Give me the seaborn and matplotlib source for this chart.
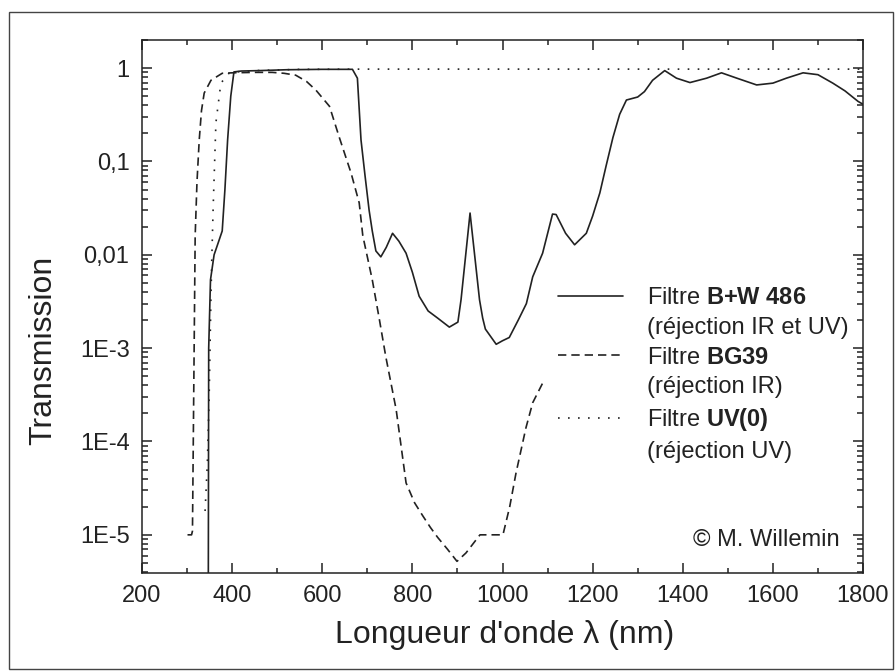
import matplotlib
matplotlib.use("Agg")
import matplotlib.pyplot as plt
import matplotlib.ticker as mticker
from matplotlib.lines import Line2D
from matplotlib.patches import Rectangle
import seaborn as sns
import pandas as pd

# ---- data ----
bw_x = [347, 348, 352, 360, 369, 378, 384, 390, 397, 404, 420, 460, 520, 600, 667, 678, 686, 695,
        704, 711, 719, 730, 742, 756, 770, 786, 800, 815, 835, 856, 882, 901, 908, 928, 949, 956,
        962, 986, 1000, 1015, 1035, 1053, 1067, 1089, 1111, 1119, 1140, 1160, 1186, 1200, 1216,
        1230, 1245, 1260, 1275, 1300, 1315, 1333, 1360, 1386, 1416, 1453, 1486, 1520, 1564, 1600,
        1630, 1667, 1700, 1733, 1760, 1789, 1800]
bw_y = [1e-6, 1e-3, 0.0054, 0.010, 0.0134, 0.018, 0.05, 0.17, 0.5, 0.91, 0.93, 0.94, 0.96, 0.97,
        0.97, 0.78, 0.17, 0.07, 0.03, 0.018, 0.011, 0.0095, 0.012, 0.017, 0.014, 0.0104, 0.0065,
        0.0036, 0.0025, 0.0021, 0.00168, 0.0019, 0.0033, 0.028, 0.0033, 0.0021, 0.0016, 0.0011,
        0.0012, 0.0013, 0.002, 0.003, 0.0058, 0.0104, 0.0273, 0.027, 0.017, 0.0128, 0.017, 0.026,
        0.046, 0.09, 0.18, 0.32, 0.455, 0.49, 0.56, 0.74, 0.94, 0.78, 0.70, 0.78, 0.89, 0.78, 0.66,
        0.69, 0.78, 0.89, 0.85, 0.69, 0.57, 0.44, 0.41]

bg_x = [301, 310, 312, 318, 322, 327, 332, 338, 353, 378, 400, 450, 489, 515, 541, 565, 586, 616,
        638, 664, 682, 690, 711, 727, 741, 764, 786, 805, 823, 840, 856, 878, 899, 919, 950, 1001,
        1016, 1030, 1052, 1067, 1093]
bg_y = [1e-5, 1e-5, 1.1e-5, 0.016, 0.06, 0.17, 0.35, 0.54, 0.74, 0.88, 0.89, 0.9, 0.9, 0.88, 0.84,
        0.72, 0.58, 0.39, 0.18, 0.075, 0.036, 0.016, 0.0054, 0.002, 8.1e-4, 2.2e-4, 3.6e-5, 2.2e-5,
        1.6e-5, 1.2e-5, 9.4e-6, 7e-6, 5.2e-6, 6.4e-6, 1e-5, 1e-5, 2e-5, 4.6e-5, 1.4e-4, 2.6e-4,
        4.6e-4]

uv_x = [340, 345, 349, 353, 355, 358, 364, 375, 393, 408, 450, 550, 700, 1800]
uv_y = [1.8e-5, 5.8e-5, 3e-4, 3.6e-3, 9.5e-3, 0.033, 0.26, 0.69, 0.88, 0.91, 0.94, 0.97, 0.975, 0.975]

xticks = [200, 400, 600, 800, 1000, 1200, 1400, 1600, 1800]
yticks = [1e-5, 1e-4, 1e-3, 1e-2, 1e-1, 1]
ytick_labels = ["1E-5", "1E-4", "1E-3", "0,01", "0,1", "1"]

legend_labels = ["Filtre $\\mathbf{B{+}W\\ 486}$", "(réjection IR et UV)",
                 "Filtre $\\mathbf{BG39}$", "(réjection IR)",
                 "Filtre $\\mathbf{UV(0)}$", "(réjection UV)"]

# ---- style ----
sns.set_theme(style="ticks")
plt.rcParams["font.family"] = ["Liberation Sans", "DejaVu Sans"]
plt.rcParams["mathtext.fontset"] = "custom"
plt.rcParams["mathtext.rm"] = "Liberation Sans"
plt.rcParams["mathtext.bf"] = "Liberation Sans:bold"
plt.rcParams["mathtext.it"] = "Liberation Sans:italic"

ink = "#222222"
fig = plt.figure(figsize=(8.96, 6.72), dpi=100)
ax = fig.add_axes([142 / 896, 1 - 573 / 672, 721 / 896, 533 / 672])

df_bw = pd.DataFrame({"x": bw_x, "y": bw_y})
df_bg = pd.DataFrame({"x": bg_x, "y": bg_y})
df_uv = pd.DataFrame({"x": uv_x, "y": uv_y})

lw = 1.2
sns.lineplot(data=df_bw, x="x", y="y", ax=ax, color=ink, lw=lw, estimator=None, sort=False)
sns.lineplot(data=df_bg, x="x", y="y", ax=ax, color=ink, lw=lw, estimator=None, sort=False,
             linestyle=(0, (5, 3)))
sns.lineplot(data=df_uv, x="x", y="y", ax=ax, color=ink, lw=lw, estimator=None, sort=False,
             linestyle=(0, (1, 5)))

ax.set_yscale("log")
ax.set_xlim(200, 1800)
ax.set_ylim(3.9e-6, 2.0)

ax.set_xticks(xticks)
ax.set_xticklabels([str(t) for t in xticks])
ax.xaxis.set_minor_locator(mticker.MultipleLocator(100))
ax.set_yticks(yticks)
ax.set_yticklabels(ytick_labels)
ax.yaxis.set_minor_locator(mticker.LogLocator(base=10, subs=range(2, 10), numticks=20))
ax.yaxis.set_minor_formatter(mticker.NullFormatter())

ax.tick_params(which="both", direction="in", top=True, right=True, color=ink, width=1.1)
ax.tick_params(which="major", length=7, labelsize=17, pad=9, labelcolor=ink)
ax.tick_params(axis="x", which="minor", length=3.5)
ax.tick_params(axis="y", which="minor", length=4.5)
for s in ax.spines.values():
    s.set_color(ink)
    s.set_linewidth(1.1)

ax.set_xlabel("Longueur d'onde λ (nm)", fontsize=23, color=ink, va="center")
ax.xaxis.set_label_coords(0.503, -0.116)
ax.set_ylabel("Transmission", fontsize=23, color=ink, va="center")
ax.yaxis.set_label_coords(-0.1375, 0.418)

handles = [Line2D([], [], color=ink, lw=lw),
           Line2D([], [], color="none"),
           Line2D([], [], color=ink, lw=lw, linestyle=(0, (5, 3))),
           Line2D([], [], color="none"),
           Line2D([], [], color=ink, lw=lw, linestyle=(0, (1, 5))),
           Line2D([], [], color="none")]
leg = ax.legend(handles, legend_labels, loc="upper left",
                bbox_to_anchor=((558 - 142) / 721, (573 - 287) / 533),
                frameon=False, fontsize=17, handlelength=2.75, handletextpad=1.0,
                labelspacing=0.33, borderpad=0, borderaxespad=0)
for t in leg.get_texts():
    t.set_color(ink)

ax.text((840 - 142) / 721, (573 - 540) / 533, "© M. Willemin", transform=ax.transAxes,
        ha="right", va="center", fontsize=17, color=ink)

fig.patches.append(Rectangle((9 / 896, 1 - 669 / 672), 884 / 896, 657 / 672,
                             transform=fig.transFigure, fill=False, lw=1.0, ec="#444444"))

fig.savefig("out.png", dpi=100)
